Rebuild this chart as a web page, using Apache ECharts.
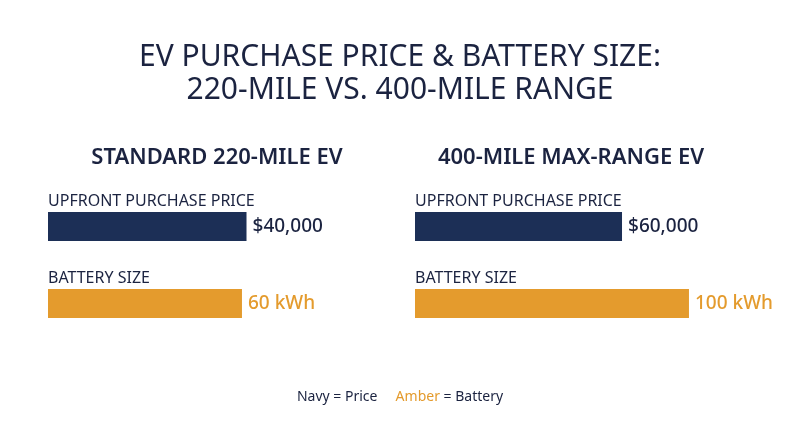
<!DOCTYPE html>
<html>
<head>
    <meta charset="utf-8">
    <title>EV price and battery</title>
    <script src="https://cdn.jsdelivr.net/npm/echarts@6/dist/echarts.min.js"></script>
    <style>
        html, body { margin: 0; padding: 0; background: #fff; }
        #main { width: 800px; height: 447px; }
    </style>
</head>
<body>
<div id="main"></div>
<script type="text/javascript">
    // data
    var panelNames = ['STANDARD 220-MILE EV', '400-MILE MAX-RANGE EV'];
    var metricNames = ['UPFRONT PURCHASE PRICE', 'BATTERY SIZE'];
    var priceUsd = [40000, 60000];
    var batteryKwh = [60, 100];

    var NAVY = '#1c2f56';
    var AMBER = '#e49b2d';
    var INK = '#1b2340';
    var FONT = 'Noto Sans';

    // per-panel layout: grid left edge, title centre, axis max so bars get the reference lengths
    var panelLeft = [48, 415];
    var panelCentre = [212, 566];
    var priceMax = [60450, 86950];
    var batteryMax = [92.8, 109.5];

    function showBars() {
        var chart = echarts.init(document.getElementById('main'));
        var titles = [{
            text: 'EV PURCHASE PRICE & BATTERY SIZE:\n220-MILE VS. 400-MILE RANGE',
            left: 'center',
            top: 36,
            textStyle: { fontFamily: FONT, fontSize: 30, fontWeight: 400, color: INK, lineHeight: 33 }
        }];
        var grids = [], xAxes = [], yAxes = [], series = [];
        panelNames.forEach(function (name, i) {
            titles.push({
                text: name,
                left: panelCentre[i],
                textAlign: 'center',
                top: 142,
                textStyle: { fontFamily: FONT, fontSize: 22, fontWeight: 600, color: INK }
            });
            titles.push({
                text: metricNames[0],
                left: panelLeft[i] - 5,
                top: 188,
                textStyle: { fontFamily: FONT, fontSize: 16, fontWeight: 400, color: INK }
            });
            titles.push({
                text: metricNames[1],
                left: panelLeft[i] - 5,
                top: 265,
                textStyle: { fontFamily: FONT, fontSize: 16, fontWeight: 400, color: INK }
            });
            grids.push({ left: panelLeft[i], width: 300, top: 188, height: 154 });
            xAxes.push({ type: 'value', gridIndex: i, min: 0, max: priceMax[i], show: false });
            xAxes.push({ type: 'value', gridIndex: i, min: 0, max: batteryMax[i], show: false });
            yAxes.push({ type: 'category', gridIndex: i, data: metricNames, inverse: true, show: false });
            series.push({
                type: 'bar',
                xAxisIndex: i * 2,
                yAxisIndex: i,
                data: [priceUsd[i], '-'],
                barWidth: 29,
                barGap: '-100%',
                itemStyle: { color: NAVY },
                label: {
                    show: true, position: 'right', distance: 6,
                    fontFamily: FONT, fontSize: 19, fontWeight: 500, color: INK,
                    formatter: function (p) { return '$' + p.value.toLocaleString('en-US'); }
                }
            });
            series.push({
                type: 'bar',
                xAxisIndex: i * 2 + 1,
                yAxisIndex: i,
                data: ['-', batteryKwh[i]],
                barWidth: 29,
                barGap: '-100%',
                itemStyle: { color: AMBER },
                label: {
                    show: true, position: 'right', distance: 6,
                    fontFamily: FONT, fontSize: 19, fontWeight: 500, color: AMBER,
                    formatter: function (p) { return p.value + ' kWh'; }
                }
            });
        });
        titles.push({
            text: 'Navy = Price     {a|Amber} = Battery',
            left: 'center',
            top: 385,
            textStyle: {
                fontFamily: FONT, fontSize: 14, fontWeight: 400, color: INK,
                rich: { a: { fontFamily: FONT, fontSize: 14, fontWeight: 400, color: AMBER } }
            }
        });
        chart.setOption({
            animation: false,
            title: titles,
            grid: grids,
            xAxis: xAxes,
            yAxis: yAxes,
            series: series
        });
        window.onresize = function () { chart.resize(); };
    }
    showBars();
</script>
</body>
</html>
